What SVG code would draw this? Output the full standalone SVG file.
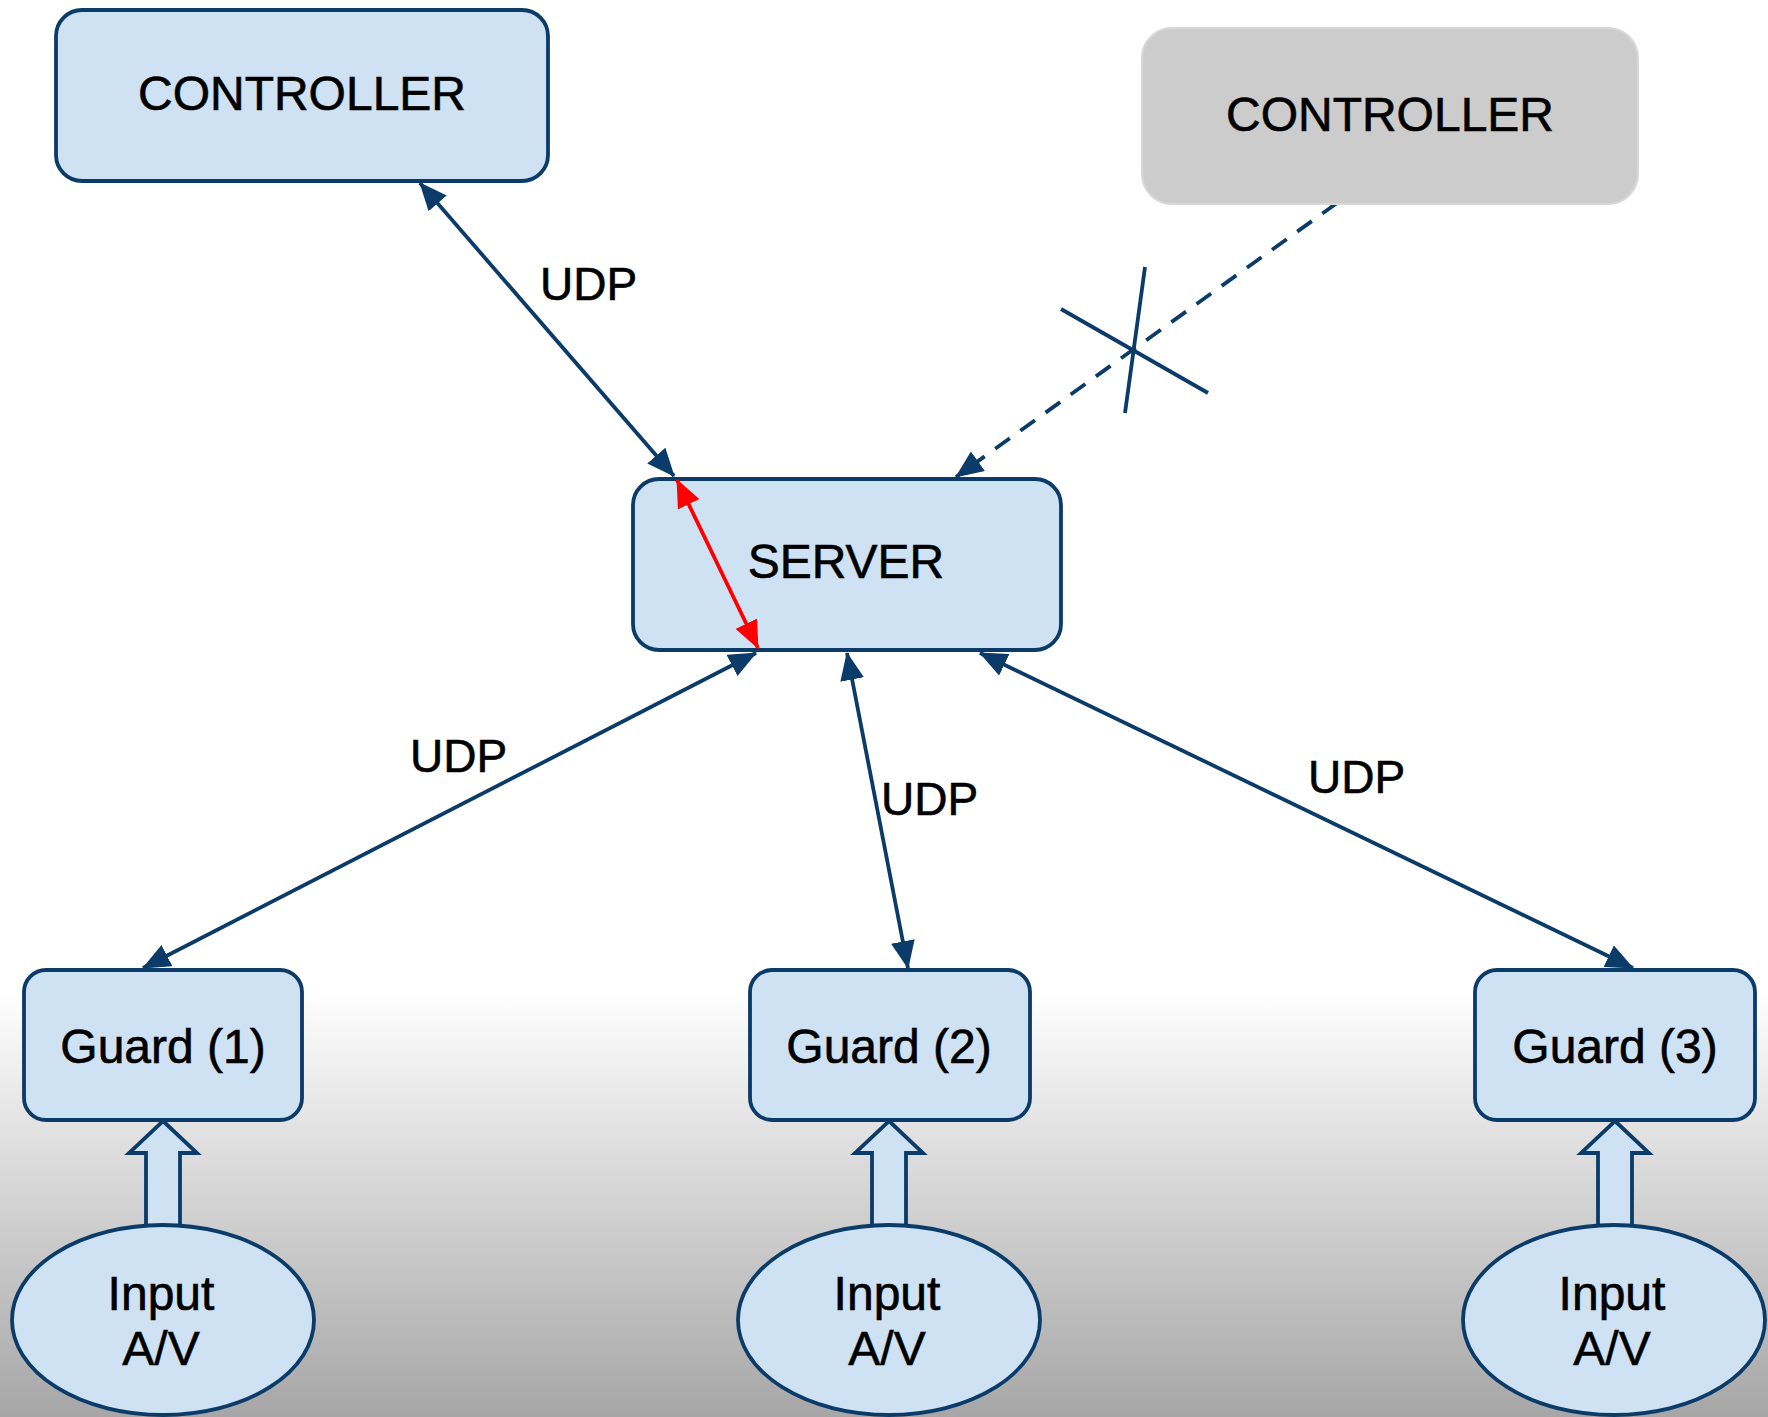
<svg xmlns="http://www.w3.org/2000/svg" width="1768" height="1417" viewBox="0 0 1768 1417">
  <defs>
    <linearGradient id="bg" x1="0" y1="0" x2="0" y2="1">
      <stop offset="0" stop-color="#ffffff"/>
      <stop offset="1" stop-color="#a6a6a6"/>
    </linearGradient>
    <marker id="ah" markerUnits="userSpaceOnUse" viewBox="0 0 28 24" markerWidth="28" markerHeight="24" refX="27" refY="12" orient="auto-start-reverse">
      <path d="M0,0 L28,12 L0,24 z" fill="#0b3b68"/>
    </marker>
    <marker id="ahr" markerUnits="userSpaceOnUse" viewBox="0 0 28 24" markerWidth="28" markerHeight="24" refX="27" refY="12" orient="auto-start-reverse">
      <path d="M0,0 L28,12 L0,24 z" fill="#ff0000"/>
    </marker>
    <polygon id="blk" points="0,0 34,32 17,32 17,108 -17,108 -17,32 -34,32"/>
  </defs>
  <style>
    .box { fill: #cfe2f3; stroke: #0b3b68; stroke-width: 3.8; }
    .gray { fill: #cccccc; stroke: #d8d8d8; stroke-width: 2; }
    .lbl { font-family: "Liberation Sans", Arial, sans-serif; font-size: 48px; fill: #000; stroke: #000; stroke-width: 0.6; text-anchor: middle; }
    .udp { font-family: "Liberation Sans", Arial, sans-serif; font-size: 46px; fill: #000; stroke: #000; stroke-width: 0.6; }
    .con { fill: none; stroke: #0b3b68; stroke-width: 3.8; }
    .blk { fill: #cfe2f3; stroke: #0b3b68; stroke-width: 3.8; stroke-linejoin: miter; }
  </style>

  <rect x="0" y="0" width="1768" height="1417" fill="#ffffff"/>
  <rect x="0" y="990" width="1768" height="427" fill="url(#bg)"/>

  <g id="connectors">
    <line class="con" x1="420" y1="183" x2="674" y2="476" marker-start="url(#ah)" marker-end="url(#ah)"/>
    <line class="con" x1="1337" y1="203" x2="956" y2="477" stroke-dasharray="18 13" marker-end="url(#ah)"/>
    <line class="con" x1="1145" y1="267" x2="1125" y2="413"/>
    <line class="con" x1="1061" y1="309" x2="1208" y2="393"/>
    <line class="con" x1="756" y1="653" x2="143" y2="968" marker-start="url(#ah)" marker-end="url(#ah)"/>
    <line class="con" x1="847" y1="653" x2="908" y2="968" marker-start="url(#ah)" marker-end="url(#ah)"/>
    <line class="con" x1="980" y1="653" x2="1633" y2="968" marker-start="url(#ah)" marker-end="url(#ah)"/>
    <text class="udp" x="540" y="300">UDP</text>
    <text class="udp" x="410" y="772">UDP</text>
    <text class="udp" x="881" y="815">UDP</text>
    <text class="udp" x="1308" y="793">UDP</text>
  </g>

  <g id="controller1">
    <rect class="box" x="56" y="10" width="492" height="171" rx="26"/>
    <text class="lbl" x="302" y="110" font-size="49">CONTROLLER</text>
  </g>
  <g id="controller2">
    <rect class="gray" x="1142" y="28" width="496" height="176" rx="30"/>
    <text class="lbl" x="1390" y="131" font-size="49">CONTROLLER</text>
  </g>
  <g id="server">
    <rect class="box" x="633" y="479" width="428" height="171" rx="26"/>
    <text class="lbl" x="846" y="578">SERVER</text>
  </g>
  <g id="red-link">
    <line x1="677" y1="480" x2="758" y2="648" stroke="#ff0000" stroke-width="3.8" marker-start="url(#ahr)" marker-end="url(#ahr)"/>
  </g>

  <g id="guard1">
    <rect class="box" x="24" y="970" width="278" height="150" rx="22"/>
    <text class="lbl" x="163" y="1063">Guard (1)</text>
  </g>
  <g id="guard2">
    <rect class="box" x="750" y="970" width="280" height="150" rx="22"/>
    <text class="lbl" x="889" y="1063">Guard (2)</text>
  </g>
  <g id="guard3">
    <rect class="box" x="1475" y="970" width="280" height="150" rx="22"/>
    <text class="lbl" x="1615" y="1063">Guard (3)</text>
  </g>

  <g id="input-arrows">
    <use href="#blk" class="blk" transform="translate(163,1121)"/>
    <use href="#blk" class="blk" transform="translate(889,1121)"/>
    <use href="#blk" class="blk" transform="translate(1615,1121)"/>
  </g>

  <g id="input1">
    <ellipse class="box" cx="163" cy="1320" rx="151" ry="95"/>
    <text class="lbl" x="161" y="1310">Input</text>
    <text class="lbl" x="161" y="1365">A/V</text>
  </g>
  <g id="input2">
    <ellipse class="box" cx="889" cy="1320" rx="151" ry="95"/>
    <text class="lbl" x="887" y="1310">Input</text>
    <text class="lbl" x="887" y="1365">A/V</text>
  </g>
  <g id="input3">
    <ellipse class="box" cx="1614" cy="1320" rx="151" ry="95"/>
    <text class="lbl" x="1612" y="1310">Input</text>
    <text class="lbl" x="1612" y="1365">A/V</text>
  </g>
</svg>
